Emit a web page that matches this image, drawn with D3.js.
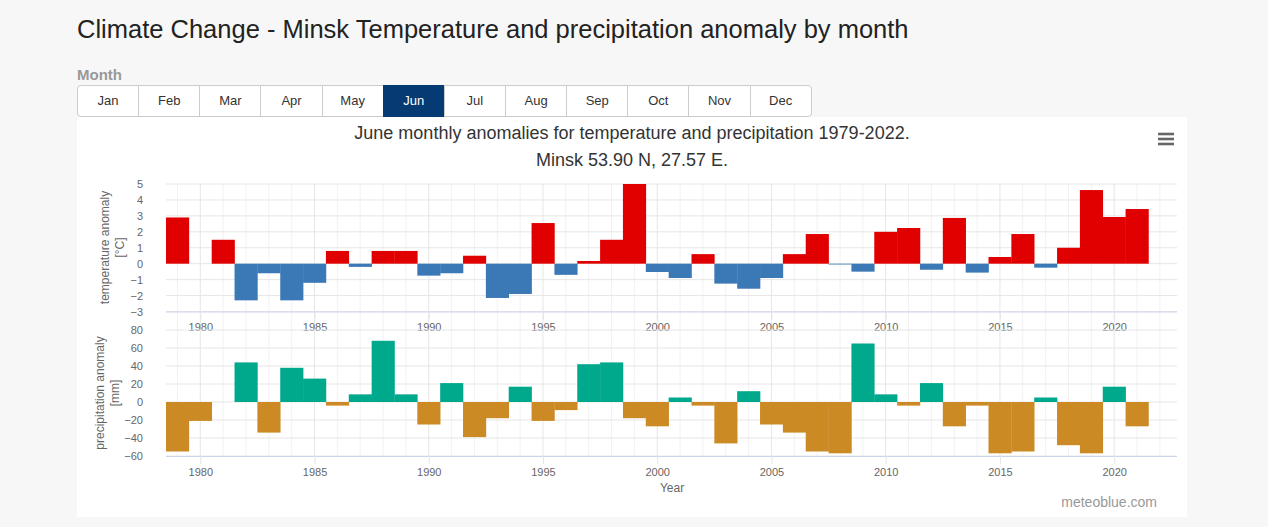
<!DOCTYPE html>
<html>
<head>
<meta charset="utf-8">
<script src="https://cdn.jsdelivr.net/npm/d3@7"></script>
<style>
  body { margin: 0; background: #f7f7f7; font-family: "Liberation Sans", Arial, sans-serif; width: 1268px; height: 527px; overflow: hidden; position: relative; }
  h1 { position: absolute; left: 77px; top: 15px; margin: 0; font-size: 25.5px; font-weight: normal; color: #222; }
  .lbl { position: absolute; left: 77px; top: 66px; font-size: 15px; font-weight: bold; color: #999; }
  #months { position: absolute; left: 77px; top: 85px; height: 31px; display: flex; }
  .btn { width: 60.15px; height: 30px; line-height: 30px; text-align: center; font-size: 13px; color: #333; background: #fff; border: 1px solid #ccc; margin-left: -1px; box-sizing: content-box; }
  .btn:first-child { margin-left: 0; border-radius: 4px 0 0 4px; }
  .btn:last-child { border-radius: 0 4px 4px 0; }
  .btn.on { background: #063a72; border-color: #063a72; color: #fff; }
  #canvas { position: absolute; left: 77px; top: 117px; }
</style>
</head>
<body>
<h1>Climate Change - Minsk Temperature and precipitation anomaly by month</h1>
<div class="lbl">Month</div>
<div id="months"></div>
<div id="canvas"></div>
<script>
let months = ['Jan', 'Feb', 'Mar', 'Apr', 'May', 'Jun', 'Jul', 'Aug', 'Sep', 'Oct', 'Nov', 'Dec']
let activeMonth = 'Jun'

let years = d3.range(1979, 2022) // 1979 ... 2021
let temp = [2.9, 0, 1.5, -2.3, -0.6, -2.3, -1.2, 0.8, -0.2, 0.8,
            0.8, -0.75, -0.6, 0.5, -2.15, -1.9, 2.55, -0.7, 0.17, 1.5,
            5.0, -0.52, -0.9, 0.6, -1.25, -1.57, -0.9, 0.6, 1.86, -0.05,
            -0.5, 2.0, 2.24, -0.38, 2.87, -0.56, 0.42, 1.86, -0.25, 1.0,
            4.62, 2.93, 3.43]
let prec = [-55, -21, 0, 44, -34, 38, 26, -4, 8.5, 68,
            8.5, -25, 21, -39, -18, 17, -21, -9, 42, 44,
            -18, -27, 5, -4, -46, 12, -25, -34, -55, -57,
            65, 8.5, -4, 21, -27, -4, -57, -55, 5, -48,
            -57, 17, -27]
let tempTicks = [5, 4, 3, 2, 1, 0, -1, -2, -3]
let precTicks = [80, 60, 40, 20, 0, -20, -40, -60]
let yearTicks = [1980, 1985, 1990, 1995, 2000, 2005, 2010, 2015, 2020]

// month buttons
d3.select('#months').selectAll('div')
    .data(months)
    .enter()
    .append('div')
    .attr('class', d => d == activeMonth ? 'btn on' : 'btn')
    .text(d => d)

let W = 1110, H = 400
let svg = d3.select('#canvas').append('svg')
    .attr('width', W).attr('height', H)
    .style('font-family', '"Liberation Sans", Arial, sans-serif')

svg.append('rect').attr('width', W).attr('height', H).style('fill', '#fff')

// titles
svg.append('text').attr('x', 555).attr('y', 22).attr('text-anchor', 'middle')
    .style('font-size', '18px').style('fill', '#333')
    .text('June monthly anomalies for temperature and precipitation 1979-2022.')
svg.append('text').attr('x', 555).attr('y', 49).attr('text-anchor', 'middle')
    .style('font-size', '18px').style('fill', '#333')
    .text('Minsk 53.90 N, 27.57 E.')

// menu icon
svg.selectAll('.menu').data([0, 1, 2]).enter().append('line')
    .attr('x1', 1081).attr('x2', 1097)
    .attr('y1', d => 17 + d * 5).attr('y2', d => 17 + d * 5)
    .style('stroke', '#666').style('stroke-width', 2.6)

let xScale = d3.scaleLinear()
    .domain([1978.5, 2022.75])
    .range([89, 1100])

let yTemp = d3.scaleLinear().domain([-3, 5]).range([194.5, 67])
let yPrec = d3.scaleLinear().domain([-60, 80]).range([339, 213])

// vertical grid (minor every year, major every 5)
let allYears = d3.range(1979, 2023)
svg.append('g').selectAll('line')
    .data(allYears)
    .enter()
    .append('line')
    .attr('x1', d => xScale(d)).attr('x2', d => xScale(d))
    .attr('y1', 67).attr('y2', 339)
    .style('stroke', d => d % 5 == 0 ? '#e6e6e6' : '#f2f2f2')

function panel(yScale, ticks, values, posColor, negColor) {
    let g = svg.append('g')
    // horizontal grid
    g.selectAll('.hg').data(ticks).enter().append('line')
        .attr('x1', 89).attr('x2', 1100)
        .attr('y1', d => yScale(d)).attr('y2', d => yScale(d))
        .style('stroke', '#e6e6e6')

    // bars
    g.selectAll('rect').data(values).enter().append('rect')
        .attr('x', (d, i) => xScale(years[i] - 0.5))
        .attr('width', (d, i) => xScale(years[i] + 0.5) - xScale(years[i] - 0.5) + 0.3)
        .attr('y', d => Math.min(yScale(d), yScale(0)))
        .attr('height', d => Math.abs(yScale(d) - yScale(0)))
        .style('fill', d => d >= 0 ? posColor : negColor)

    // y axis labels
    let yAxis = d3.axisLeft(yScale).tickValues(ticks).tickSize(0).tickPadding(0)
    let ya = g.append('g').attr('transform', 'translate(66,0)').call(yAxis)
    ya.select('.domain').remove()
    ya.selectAll('text').style('font-size', '11px').style('fill', '#666')
        .style('font-family', '"Liberation Sans", Arial, sans-serif')

    // x axis
    let xAxis = d3.axisBottom(xScale).tickValues(yearTicks).tickFormat(d3.format('d'))
        .tickSize(8).tickPadding(4)
    let xa = g.append('g').attr('transform', 'translate(0,' + yScale.range()[0] + ')').call(xAxis)
    xa.select('.domain').attr('d', 'M89,0.5H1100').style('stroke', '#ccd6eb')
    xa.selectAll('line').style('stroke', '#e6e6e6')
    xa.selectAll('text').style('font-size', '11px').style('fill', '#666')
        .style('font-family', '"Liberation Sans", Arial, sans-serif')
}

panel(yTemp, tempTicks, temp, '#e00000', '#3b78b6')
panel(yPrec, precTicks, prec, '#00a88c', '#cb8a24')

// axis titles
function yTitle(cy, lines, x0) {
    let t = svg.append('text')
        .attr('transform', 'translate(' + x0 + ',' + cy + ') rotate(-90)')
        .attr('text-anchor', 'middle')
        .style('font-size', '12px').style('fill', '#666')
    lines.forEach((s, i) => {
        t.append('tspan').attr('x', 0).attr('dy', i == 0 ? 0 : 15).text(s)
    })
}
yTitle(130.5, ['temperature anomaly', '[°C]'], 32)
yTitle(276, ['precipitation anomaly', '[mm]'], 27)

svg.append('text').attr('x', 595).attr('y', 375).attr('text-anchor', 'middle')
    .style('font-size', '12px').style('fill', '#666').text('Year')

svg.append('text').attr('x', 1080).attr('y', 390).attr('text-anchor', 'end')
    .style('font-size', '14px').style('fill', '#999').text('meteoblue.com')
</script>
</body>
</html>
